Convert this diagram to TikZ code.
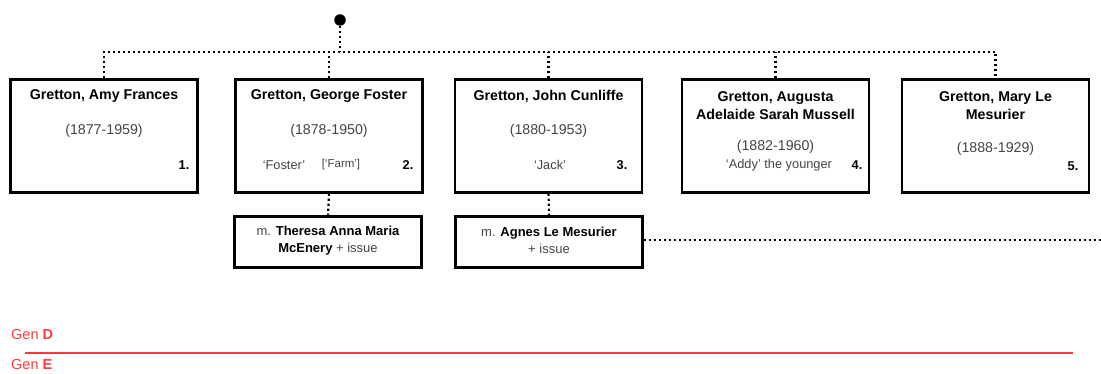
\documentclass[tikz,border=0pt]{standalone}
\usepackage{fontspec}
\setmainfont{Liberation Sans}
\definecolor{genred}{HTML}{FF3B3B}
\definecolor{datetext}{HTML}{444444}
\tikzset{
  person/.style={draw,line width=2.4pt,minimum width=187pt,minimum height=113pt,inner sep=0pt},
  spouse/.style={draw,line width=2.4pt,minimum width=187pt,minimum height=51pt,inner sep=0pt},
  kin/.style={line width=2.2pt,dash pattern=on 2.2pt off 2.8pt},
  namefont/.style={font=\bfseries\fontsize{14.2}{17.5}\selectfont,align=center,inner sep=0pt},
  datefont/.style={font=\fontsize{14.2}{16}\selectfont,text=datetext,inner sep=0pt},
  nickfont/.style={font=\fontsize{12.8}{15}\selectfont,text=datetext,inner sep=0pt},
  numfont/.style={font=\bfseries\fontsize{12.8}{15}\selectfont,inner sep=0pt}
}
\begin{document}
\begin{tikzpicture}[x=1pt,y=-1pt]
            \useasboundingbox (0,0) rectangle (1101,374);
            % children of the marriage
            \node[person] (amy) at (104,136) {};
            \node[person] (george) at (329,136) {};
            \node[person] (john) at (548.5,136) {};
            \node[person] (augusta) at (775.5,136) {};
            \node[person] (mary) at (995.5,136) {};
            % marriages
            \node[spouse] (theresa) at (328,242) {};
            \node[spouse] (agnes) at (549,242) {};
            % line of descent
            \node[circle,fill,inner sep=0pt,minimum size=11.5pt] (root) at (340,20) {};
            \coordinate (bar) at (340,52);
            \draw[kin](root)--(bar);
            \draw[kin](amy.north)--(amy.north|-bar)--(mary.north|-bar)--(mary.north);
            \draw[kin](george.north)--(george.north|-bar);
            \draw[kin](john.north)--(john.north|-bar);
            \draw[kin](augusta.north)--(augusta.north|-bar);
            \draw[kin](george.south)--(theresa.north);
            \draw[kin](john.south)--(agnes.north);
            \coordinate (offpage) at (1101,240);
            \draw[kin](agnes.east|-offpage)--(offpage);
            % texts in the boxes
            \node[namefont] (amyname) at (104,96){Gretton, Amy Frances};
            \node[datefont] (amydate) at (104,131){(1877-1959)};
            \node[numfont] (amynum) at (184,165){1.};
            \node[namefont] (georgename) at (329,96){Gretton, George Foster};
            \node[datefont] (georgedate) at (329,131){(1878-1950)};
            \node[nickfont] (georgenick) at (284,165){‘Foster’};
            \node[nickfont,font=\fontsize{11.5}{13}\selectfont] (georgefarm) at (341,165){[‘Farm’]};
            \node[numfont] (georgenum) at (408,165){2.};
            \node[namefont] (johnname) at (548.5,96){Gretton, John Cunliffe};
            \node[datefont] (johndate) at (548.5,131){(1880-1953)};
            \node[nickfont] (johnnick) at (550,165){‘Jack’};
            \node[numfont] (johnnum) at (622,165){3.};
            \node[namefont] (augustaname) at (775.5,105.5){Gretton, Augusta\\Adelaide Sarah Mussell};
            \node[datefont] (augustadate) at (775.5,147){(1882-1960)};
            \node[nickfont] (augustanick) at (779,165){‘Addy’ the younger};
            \node[numfont] (augustanum) at (857,165){4.};
            \node[namefont] (maryname) at (995.5,105.5){Gretton, Mary Le\\Mesurier};
            \node[datefont] (marydate) at (995.5,149){(1888-1929)};
            \node[numfont] (marynum) at (1073,166){5.};
            \node[nickfont,align=center,text=black,font=\fontsize{13}{17}\selectfont] (theresaname) at (328,240.5){\textcolor{datetext}{m.} \textbf{Theresa Anna Maria}\\\textbf{McEnery} \textcolor{datetext}{+ issue}};
            \node[nickfont,align=center,text=black,font=\fontsize{13}{17}\selectfont] (agnesname) at (549,240.5){\textcolor{datetext}{m.} \textbf{Agnes Le Mesurier}\\\textcolor{datetext}{+ issue}};
            % generations
            \coordinate (genstart) at (25,353);
            \coordinate (genend) at (1073,353);
            \draw[genred,line width=2pt](genstart)--(genend);
            \node[right,inner sep=0pt,text=genred,font=\fontsize{14.5}{16}\selectfont] (gend) at (11,335){Gen \textbf{D}};
            \node[right,inner sep=0pt,text=genred,font=\fontsize{14.5}{16}\selectfont] (gene) at (11,365){Gen \textbf{E}};
        \end{tikzpicture}
\end{document}
